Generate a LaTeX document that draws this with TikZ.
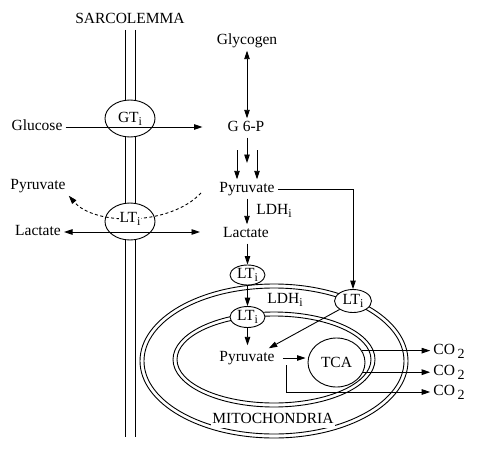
\documentclass[tikz,border=0pt]{standalone}
\usepackage{fontspec}
\setmainfont{Liberation Serif}
\usetikzlibrary{arrows.meta,shapes.geometric,calc}
\newcommand\isub{\raisebox{-0.45ex}{\fontsize{12}{13}\selectfont i}}
\newcommand\twosub{\,\raisebox{-0.55ex}{\fontsize{14}{15}\selectfont 2}}
\begin{document}
\begin{tikzpicture}[x=1pt,y=-1pt,
  lbl/.style={font=\fontsize{15.5}{18}\selectfont, inner sep=3pt, text height=10pt, text depth=3pt},
  ell/.style={ellipse, draw, fill=white, inner sep=0pt, line width=0.9pt, font=\fontsize{15.5}{18}\selectfont},
  line/.style={line width=0.9pt},
  tipA/.tip={Triangle[length=8.5pt,width=5.5pt]},
  arr/.style={line width=0.9pt, -tipA},
  darr/.style={line width=0.9pt, tipA-tipA}
]
\useasboundingbox (0,0) rectangle (484,460);

% sarcolemma membrane
\draw[line] (125,30) -- (125,437);
\draw[line] (135,30) -- (135,437);

% mitochondrial membranes
\draw[line] (274,361) ellipse [x radius=134pt, y radius=77pt];
\draw[line] (274,361) ellipse [x radius=130pt, y radius=73pt];
\draw[line] (274,359.5) ellipse [x radius=101pt, y radius=47.5pt];
\draw[line] (274,359.5) ellipse [x radius=97pt, y radius=43.5pt];

% text labels
\node[lbl] (sarco) at (130,20) {SARCOLEMMA};
\node[lbl] (glycogen) at (247,41) {Glycogen};
\node[lbl] (g6p) at (246,128) {G 6-P};
\node[lbl] (glucose) at (37,127) {Glucose};
\node[lbl] (pyrC) at (247,189) {Pyruvate};
\node[lbl] (ldhC) at (274,211) {LDH\isub};
\node[lbl] (lactC) at (246,234) {Lactate};
\node[lbl] (pyrL) at (38,186) {Pyruvate};
\node[lbl] (lactL) at (38,232) {Lactate};
\node[lbl] (ldhM) at (285,300) {LDH\isub};
\node[lbl] (pyrM) at (247,358) {Pyruvate};
\node[lbl] (co2a) at (449,351) {CO\twosub};
\node[lbl] (co2b) at (449,372) {CO\twosub};
\node[lbl] (co2c) at (449,392) {CO\twosub};
\node[lbl, fill=white, inner sep=1pt] (mito) at (273,420) {MITOCHONDRIA};

% transporter ellipses
\node[ell, minimum width=50pt, minimum height=37pt] (GT) at (130,118.5) {GT\isub};
\node[ell, minimum width=50pt, minimum height=37pt] (LTs) at (130,221.5) {};
\node[ell, minimum width=35pt, minimum height=20pt] (LT1) at (247.5,275) {LT\isub};
\node[ell, minimum width=35pt, minimum height=21pt] (LT2) at (247.5,317) {LT\isub};
\node[ell, minimum width=37pt, minimum height=23pt] (LT3) at (353,301) {LT\isub};
\node[ellipse, draw, line width=0.9pt, inner sep=0pt, minimum width=57pt, minimum height=49pt, font=\fontsize{15.5}{18}\selectfont] (tca) at (336.5,362.5) {TCA};

% coordinates for free ends
\coordinate (m1) at (247,163);
\coordinate (l0) at (237,150);
\coordinate (r0) at (257,150);
\coordinate (dstart) at (201,193);
\coordinate (c3) at (286,365);

% connectors
\draw[darr] (glycogen.south) -- (glycogen.south |- g6p.north);
\draw[arr] (g6p.south -| m1) -- (m1);
\draw[arr] (l0) -- (l0 |- pyrC.north);
\draw[arr] (r0) -- (r0 |- pyrC.north);
\draw[arr, shorten >=22pt] (glucose.east) -- (glucose.east -| g6p.west);
\draw[darr, shorten >=20pt] (lactL.east) -- (lactL.east -| lactC.west);
\draw[line, dash pattern=on 3pt off 2.5pt, -tipA] (dstart) .. controls (170,226) and (95,226) .. (pyrL.south east);
\draw[arr] (pyrC.south) -- (pyrC.south |- lactC.north);
\draw[arr] (LT1.north |- lactC.south) -- (LT1.north);
\draw[arr] (LT1.south) -- (LT2.north);
\draw[arr, shorten >=3pt] (LT2.south) -- (LT2.south |- pyrM.north);
\draw[arr] (pyrC.east) -| (LT3.north);
\draw[arr] (LT3.south west) -- ([xshift=-9pt]pyrM.north east);
\draw[arr, shorten <=5pt, shorten >=2pt] (pyrM.east) -- (pyrM.east -| tca.west);
\draw[arr] (tca.25) -- (tca.25 -| co2a.west);
\draw[arr, line width=1.4pt] (tca.-20) -- (tca.-20 -| co2b.west);
\draw[arr] (c3) |- (co2c.west);

% label over the dashed curve
\node[lbl, fill=white, inner sep=0.5pt] (LTslab) at (LTs.center) [yshift=3pt] {LT\isub};
\end{tikzpicture}
\end{document}
